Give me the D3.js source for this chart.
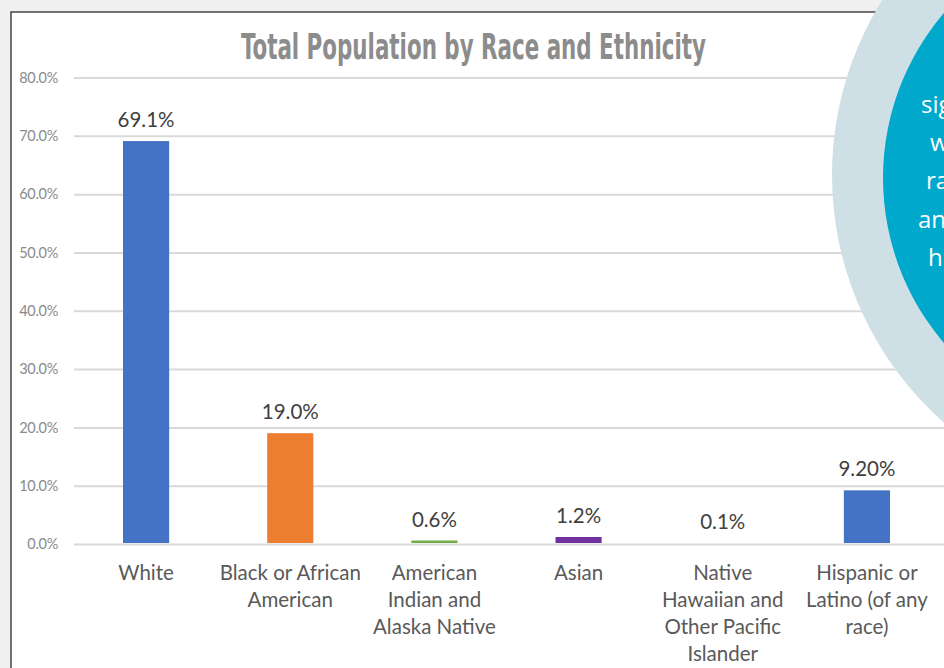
<!DOCTYPE html>
<html>
<head>
<meta charset="utf-8">
<script src="https://cdn.jsdelivr.net/npm/d3@7"></script>
<style>
  html, body { margin: 0; padding: 0; background: #f0f0f0; }
  svg { display: block; }
</style>
</head>
<body>
<svg id="chart" width="944" height="668"></svg>
<script>
const categories = [
  ["White"],
  ["Black or African", "American"],
  ["American", "Indian and", "Alaska Native"],
  ["Asian"],
  ["Native", "Hawaiian and", "Other Pacific", "Islander"],
  ["Hispanic or", "Latino (of any", "race)"]
];
const values = [69.1, 19.0, 0.6, 1.2, 0.1, 9.2];
const valueLabels = ["69.1%", "19.0%", "0.6%", "1.2%", "0.1%", "9.20%"];
const barColors = ["#4472c4", "#ed7d31", "#70ad47", "#7030a0", "#ffc000", "#4472c4"];
const yTicks = [0, 10, 20, 30, 40, 50, 60, 70, 80];
const yTickLabels = ["0.0%", "10.0%", "20.0%", "30.0%", "40.0%", "50.0%", "60.0%", "70.0%", "80.0%"];
const title = "Total Population by Race and Ethnicity";
const calloutLines = ["sig", "w", "ra", "an", "h"];

const svg = d3.select("#chart");

// frame
svg.append("rect").attr("x", 11).attr("y", 12).attr("width", 1000).attr("height", 700)
  .attr("fill", "#ffffff").attr("stroke", "#2a2a2a").attr("stroke-width", 1.3);

const x = d3.scaleBand().domain(d3.range(categories.length)).range([74, 939]).paddingInner(0.68).paddingOuter(0.34);
const y = d3.scaleLinear().domain([0, 80]).range([544, 77.5]);

// gridlines + y ticks
const yAxis = d3.axisLeft(y).tickValues(yTicks).tickFormat((d, i) => yTickLabels[i]).tickSize(0).tickPadding(16);
const gy = svg.append("g").attr("transform", "translate(74,0)").call(yAxis);
gy.select(".domain").remove();
gy.selectAll(".tick text").attr("font-family", "Lato, 'Open Sans', sans-serif").attr("font-size", 14.5)
  .attr("fill", "#8a8a8a").attr("x", -16).attr("letter-spacing", -0.3);
gy.selectAll(".tick").append("line").attr("x1", 0).attr("x2", 870)
  .attr("stroke", "#d9d9d9").attr("stroke-width", 2);

// bars
svg.append("g").selectAll("rect").data(values).join("rect")
  .attr("x", (d, i) => x(i)).attr("width", x.bandwidth())
  .attr("y", d => y(d)).attr("height", d => y(0) - 1 - y(d))
  .attr("fill", (d, i) => barColors[i]);

// value labels
svg.append("g").selectAll("text").data(values).join("text")
  .attr("x", (d, i) => x(i) + x.bandwidth() / 2)
  .attr("y", d => y(d) - 14)
  .attr("text-anchor", "middle")
  .attr("font-family", "Lato, 'Open Sans', sans-serif").attr("font-size", 20.5)
  .attr("fill", "#404040")
  .text((d, i) => valueLabels[i]);

// category labels
const xl = svg.append("g").selectAll("text").data(categories).join("text")
  .attr("x", (d, i) => x(i) + x.bandwidth() / 2)
  .attr("y", 580)
  .attr("text-anchor", "middle")
  .attr("font-family", "Lato, 'Open Sans', sans-serif").attr("font-size", 20.5)
  .attr("fill", "#595959");
xl.each(function(lines, i) {
  const t = d3.select(this);
  lines.forEach((ln, k) => {
    t.append("tspan").attr("x", x(i) + x.bandwidth() / 2).attr("y", 580 + k * 27).text(ln);
  });
});

// title
svg.append("text").attr("x", 241).attr("y", 59)
  .attr("font-family", "'Liberation Sans Narrow', 'DejaVu Sans Condensed', sans-serif")
  .attr("font-weight", "bold").attr("font-size", 36)
  .attr("textLength", 465).attr("lengthAdjust", "spacingAndGlyphs")
  .attr("fill", "#8c8c8c").text(title);

// callout circle
svg.append("circle").attr("cx", 1162).attr("cy", 175).attr("r", 330).attr("fill", "#cfdfe6");
svg.append("circle").attr("cx", 1137).attr("cy", 178).attr("r", 254).attr("fill", "#00a8cc");
const calloutX = [921, 930, 926, 918, 928];
svg.append("g").selectAll("text").data(calloutLines).join("text")
  .attr("x", (d, i) => calloutX[i]).attr("y", (d, i) => 113 + i * 38.2)
  .attr("font-family", "'Open Sans', sans-serif").attr("font-size", 24)
  .attr("fill", "#ffffff").text(d => d);
</script>
</body>
</html>
